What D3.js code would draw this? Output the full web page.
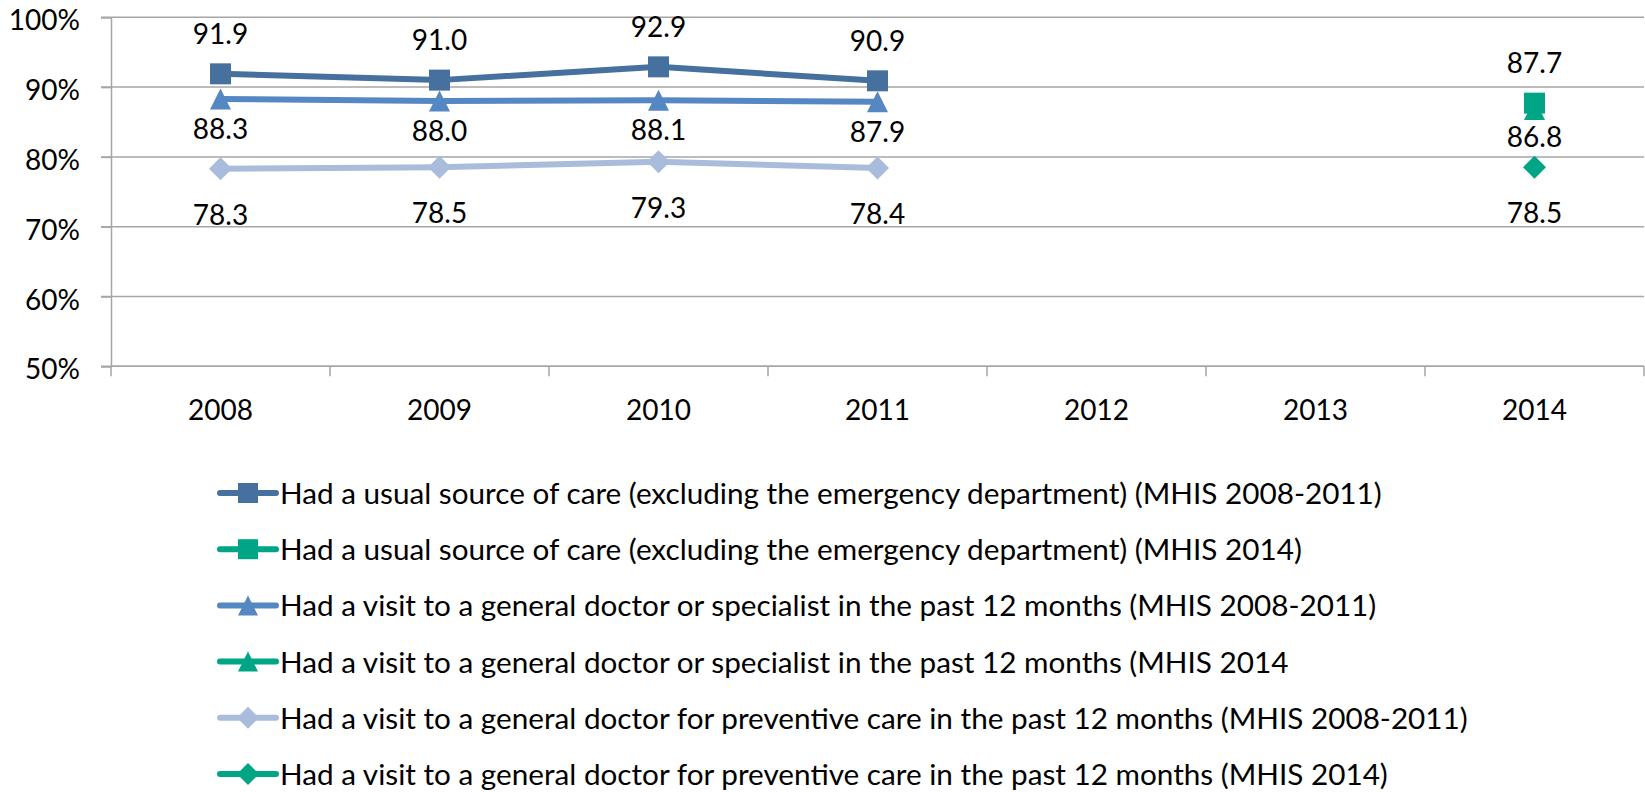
<!DOCTYPE html>
<html>
<head>
<meta charset="utf-8">
<script src="https://cdn.jsdelivr.net/npm/d3@7"></script>
<style>
  html, body { margin: 0; padding: 0; background: #fff; }
  svg { display: block; font-family: Lato, "Open Sans", sans-serif; }
</style>
</head>
<body>
<div id="chart"></div>
<script>
// Data
const YEARS = ["2008", "2009", "2010", "2011", "2012", "2013", "2014"];
const Y_TICKS = [50, 60, 70, 80, 90, 100];

const USUAL_CARE_0811 = [91.9, 91.0, 92.9, 90.9, null, null, null];
const USUAL_CARE_14 = [null, null, null, null, null, null, 87.7];
const VISIT_ANY_0811 = [88.3, 88.0, 88.1, 87.9, null, null, null];
const VISIT_ANY_14 = [null, null, null, null, null, null, 86.8];
const VISIT_PREV_0811 = [78.3, 78.5, 79.3, 78.4, null, null, null];
const VISIT_PREV_14 = [null, null, null, null, null, null, 78.5];

const LABELS = [
  "Had a usual source of care (excluding the emergency department) (MHIS 2008-2011)",
  "Had a usual source of care (excluding the emergency department) (MHIS 2014)",
  "Had a visit to a general doctor or specialist in the past 12 months (MHIS 2008-2011)",
  "Had a visit to a general doctor or specialist in the past 12 months (MHIS 2014",
  "Had a visit to a general doctor for preventive care in the past 12 months (MHIS 2008-2011)",
  "Had a visit to a general doctor for preventive care in the past 12 months (MHIS 2014)"
];

// Constants
const width = 1645;
const height = 792;
const COLOR_DARK = "#46709e";
const COLOR_MID = "#5587c2";
const COLOR_LIGHT = "#a9bcdb";
const COLOR_TEAL = "#00a586";
const GRID = "#a6a6a6";
const FONT_SIZE = 28;
const LEGEND_FONT_SIZE = 29.7;

// series table: marker shape, colour and where the value label sits
const series = [
  {values: USUAL_CARE_0811, color: COLOR_DARK, shape: "square", labelDy: -30},
  {values: USUAL_CARE_14, color: COLOR_TEAL, shape: "square", labelDy: -30},
  {values: VISIT_ANY_0811, color: COLOR_MID, shape: "triangle", labelDy: 40},
  {values: VISIT_ANY_14, color: COLOR_TEAL, shape: "triangle", labelDy: 38},
  {values: VISIT_PREV_0811, color: COLOR_LIGHT, shape: "diamond", labelDy: 56},
  {values: VISIT_PREV_14, color: COLOR_TEAL, shape: "diamond", labelDy: 56}
].map((s, i) => ({...s, label: LABELS[i]}));

const x = d3.scaleBand().domain(YEARS).range([111, 1644]).padding(0);
const y = d3.scaleLinear().domain([50, 100]).range([366.3, 17.3]);

const svg = d3.select("#chart")
  .append("svg")
  .attr("width", width)
  .attr("height", height)
  .attr("viewBox", [0, 0, width, height]);

// Marker path generator, centred on 0,0
function markerPath(shape, s) {
  const h = s / 2;
  if (shape === "square") return `M${-h},${-h}h${s}v${s}h${-s}Z`;
  if (shape === "triangle") return `M0,${-h}L${h},${h}L${-h},${h}Z`;
  return `M0,${-h - 1}L${h + 1},0L0,${h + 1}L${-h - 1},0Z`;
}

// Gridlines
svg.append("g")
  .selectAll("line")
  .data(Y_TICKS)
  .join("line")
  .attr("x1", 101)
  .attr("x2", 1644)
  .attr("y1", d => y(d))
  .attr("y2", d => y(d))
  .attr("stroke", GRID)
  .attr("stroke-width", 1.5);

// Y axis
const yAxis = svg.append("g")
  .attr("transform", "translate(111,0)")
  .call(d3.axisLeft(y).tickValues(Y_TICKS).tickSize(10).tickPadding(21).tickFormat(d => d + "%"));
yAxis.select(".domain").attr("stroke", GRID).attr("stroke-width", 1.5);
yAxis.selectAll(".tick line").attr("stroke", GRID).attr("stroke-width", 1.5);
yAxis.selectAll(".tick text")
  .attr("font-size", FONT_SIZE)
  .attr("font-family", "Lato")
  .attr("fill", "#000")
  .attr("dy", "0.45em");

// X axis: ticks sit on the band edges
const xAxis = svg.append("g").attr("transform", `translate(0,${y(50)})`);
xAxis.append("line")
  .attr("x1", 111).attr("x2", 1644)
  .attr("stroke", GRID).attr("stroke-width", 1.5);
xAxis.selectAll(".edge")
  .data([...YEARS.map(d => x(d)), x(YEARS[YEARS.length - 1]) + x.bandwidth()])
  .join("line")
  .attr("class", "edge")
  .attr("x1", d => d).attr("x2", d => d)
  .attr("y1", 0).attr("y2", 10)
  .attr("stroke", GRID).attr("stroke-width", 1.5);
xAxis.selectAll("text")
  .data(YEARS)
  .join("text")
  .attr("x", d => x(d) + x.bandwidth() / 2)
  .attr("y", 54)
  .attr("text-anchor", "middle")
  .attr("font-size", FONT_SIZE)
  .attr("fill", "#000")
  .text(d => d);

const cx = (d, i) => x(YEARS[i]) + x.bandwidth() / 2;

// Lines
const line = d3.line()
  .defined(d => d != null)
  .x((d, i) => cx(d, i))
  .y(d => y(d));

svg.append("g")
  .selectAll("path")
  .data(series)
  .join("path")
  .attr("d", s => line(s.values))
  .attr("fill", "none")
  .attr("stroke", s => s.color)
  .attr("stroke-width", 6)
  .attr("stroke-linecap", "round")
  .attr("stroke-linejoin", "round");

// Markers
series.forEach(s => {
  const pts = s.values.map((v, i) => ({v, i})).filter(p => p.v != null);
  svg.append("g")
    .selectAll("path")
    .data(pts)
    .join("path")
    .attr("transform", p => `translate(${cx(p.v, p.i)},${y(p.v)})`)
    .attr("d", markerPath(s.shape, 21))
    .attr("fill", s.color);
});

// Value labels
series.forEach(s => {
  const pts = s.values.map((v, i) => ({v, i})).filter(p => p.v != null);
  svg.append("g")
    .selectAll("text")
    .data(pts)
    .join("text")
    .attr("x", p => cx(p.v, p.i))
    .attr("y", p => y(p.v) + s.labelDy)
    .attr("text-anchor", "middle")
    .attr("font-size", FONT_SIZE)
    .attr("fill", "#000")
    .text(p => p.v.toFixed(1));
});

// Legend
const legend = svg.append("g").attr("class", "legend");
const rowY = d3.scalePoint().domain(d3.range(series.length)).range([493, 774]);

const rows = legend.selectAll("g")
  .data(series)
  .join("g")
  .attr("transform", (s, i) => `translate(0,${rowY(i)})`);

rows.append("line")
  .attr("x1", 220).attr("x2", 276)
  .attr("stroke", s => s.color)
  .attr("stroke-width", 6)
  .attr("stroke-linecap", "round");

rows.append("path")
  .attr("transform", "translate(248,0)")
  .attr("d", s => markerPath(s.shape, 20))
  .attr("fill", s => s.color);

rows.append("text")
  .attr("x", 280)
  .attr("y", 11)
  .attr("font-size", LEGEND_FONT_SIZE)
  .attr("fill", "#000")
  .text(s => s.label);
</script>
</body>
</html>
